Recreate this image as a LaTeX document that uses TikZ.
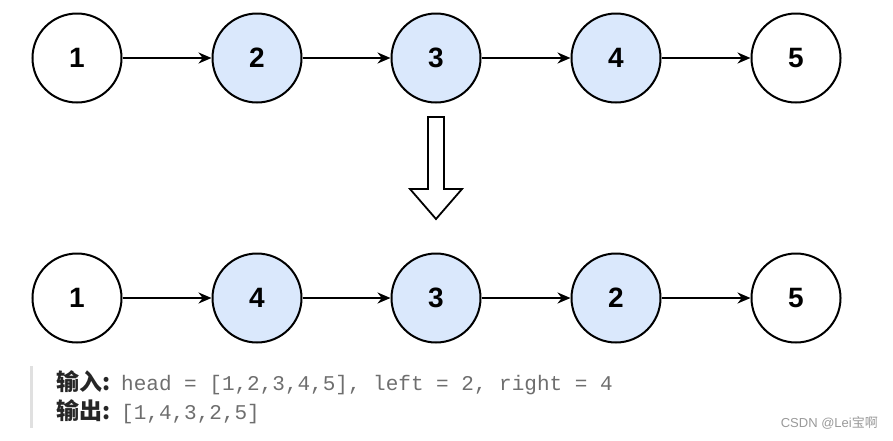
\documentclass[tikz,border=0pt]{standalone}
\usepackage{fontspec}
\setmainfont{Liberation Sans}
\newfontfamily\monofont{Liberation Mono}
\newfontfamily\cjk{Noto Sans CJK SC}
\usepackage{xcolor}
\usetikzlibrary{arrows.meta,positioning}

\definecolor{nodeblue}{HTML}{DAE8FC}
\definecolor{codegray}{HTML}{6E6E6E}
\definecolor{bargray}{HTML}{E0E0E0}

\begin{document}
\begin{tikzpicture}[x=1pt, y=-1pt,
  listnode/.style={draw, circle, line width=2pt, minimum size=89pt, inner sep=0pt,
    font=\fontsize{28}{30}\selectfont\bfseries},
  swapped/.style={listnode, fill=nodeblue},
  link/.style={-{Stealth[length=13pt,width=11pt]}, line width=2pt},
  codeline/.style={anchor=base west, inner sep=0pt},
  label/.style={font=\fontsize{23}{26}\selectfont\cjk\bfseries, text=black!85},
  code/.style={font=\fontsize{21}{24}\selectfont\monofont, text=codegray}
]
\useasboundingbox (0,0) rectangle (893,440);
% original list
\node[listnode] (a1) at (77,58) {1};
\node[swapped] (a2) at (257,58) {2};
\node[swapped] (a3) at (436,58) {3};
\node[swapped] (a4) at (616,58) {4};
\node[listnode] (a5) at (796,58) {5};
\draw[link] (a1) -- (a2);
\draw[link] (a2) -- (a3);
\draw[link] (a3) -- (a4);
\draw[link] (a4) -- (a5);
% hollow arrow
\draw[line width=1.8pt, fill=white] (428,117) -- (444,117) -- (444,189) -- (462,189)
  -- (436,219) -- (410,189) -- (428,189) -- cycle;
% reversed list
\node[listnode] (b1) at (77,298) {1};
\node[swapped] (b2) at (257,298) {4};
\node[swapped] (b3) at (436,298) {3};
\node[swapped] (b4) at (616,298) {2};
\node[listnode] (b5) at (796,298) {5};
\draw[link] (b1) -- (b2);
\draw[link] (b2) -- (b3);
\draw[link] (b3) -- (b4);
\draw[link] (b4) -- (b5);
% example text
\fill[bargray] (30,366) rectangle (33,428);
\node[codeline, label] (inlabel) at (56,390) {输入:};
\node[codeline, code] (input) at (121,390) {head = [1,2,3,4,5], left = 2, right = 4};
\node[codeline, label] (outlabel) at (56,419) {输出:};
\node[codeline, code] (output) at (121,419) {[1,4,3,2,5]};
\node[anchor=east, inner sep=0pt, text=black!40, font=\fontsize{13}{15}\selectfont] (mark) at (878,423) {CSDN @Lei{\cjk 宝啊}};
\end{tikzpicture}
\end{document}
